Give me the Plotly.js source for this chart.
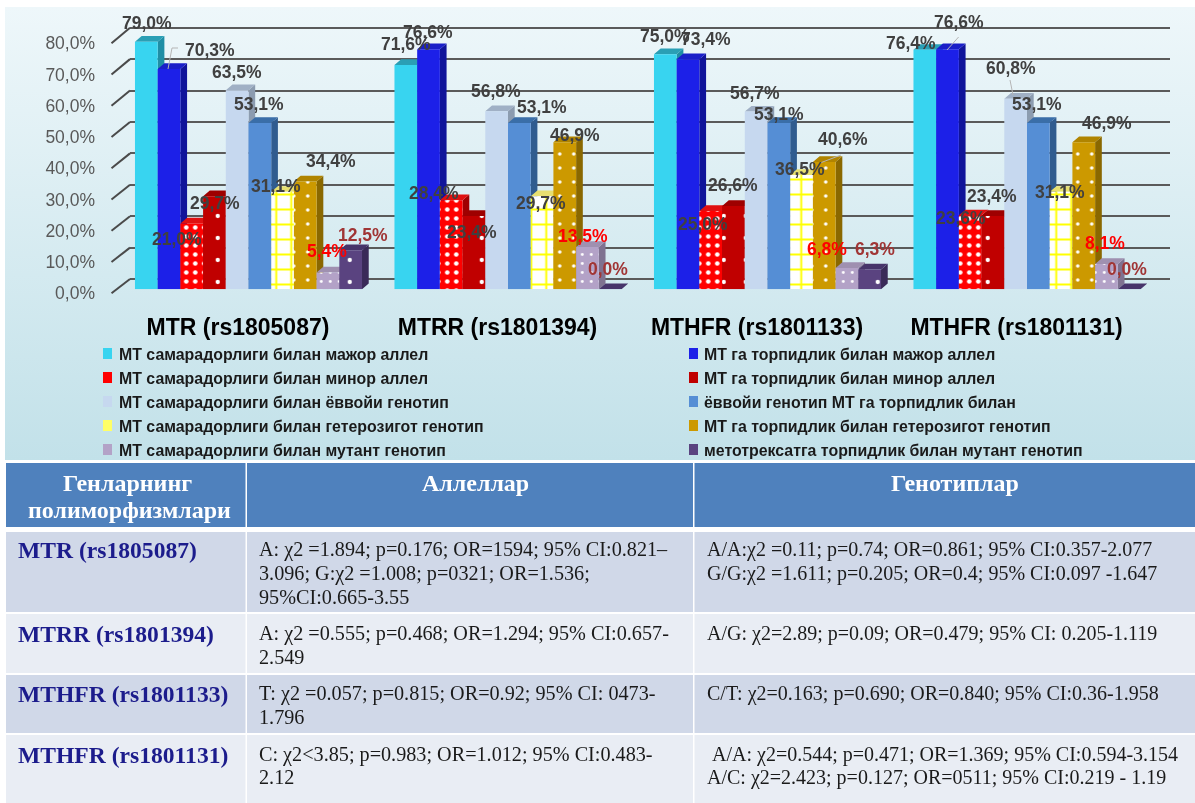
<!DOCTYPE html>
<html><head><meta charset="utf-8">
<script src="https://cdn.plot.ly/plotly-3.0.1.min.js"></script>
<style>
html,body{margin:0;padding:0;background:#fff;overflow:hidden}
#panel{position:absolute;left:5px;top:7px;width:1190px;height:453px;background:linear-gradient(#eef7fa,#c2e1e9)}
#chart{position:absolute;left:0;top:0;width:1195px;height:803px;filter:blur(0.4px)}
</style></head><body>
<div id="panel"></div><div id="chart"></div>
<script>
var W=1195,H=803;
var categories=['MTR (rs1805087)','MTRR (rs1801394)','MTHFR (rs1801133)','MTHFR (rs1801131)'];
var tickValues=[0,10,20,30,40,50,60,70,80];
var seriesNames=['МТ самарадорлиги билан мажор аллел','МТ га торпидлик билан мажор аллел','МТ самарадорлиги билан минор аллел','МТ га торпидлик билан минор аллел','МТ самарадорлиги билан ёввойи генотип','ёввойи генотип МТ га торпидлик билан','МТ самарадорлиги билан гетерозигот генотип','МТ га торпидлик билан гетерозигот генотип','МТ самарадорлиги билан мутант генотип','метотрексатга торпидлик билан мутант генотип'];
var majorEff=[79.0,71.6,75.0,76.4];
var majorRes=[70.3,76.6,73.4,76.6];
var minorEff=[21.0,28.4,25.0,23.6];
var minorRes=[29.7,23.4,26.6,23.4];
var wildEff=[63.5,56.8,56.7,60.8];
var wildRes=[53.1,53.1,53.1,53.1];
var hetEff=[31.1,29.7,36.5,31.1];
var hetRes=[34.4,46.9,40.6,46.9];
var mutEff=[5.4,13.5,6.8,8.1];
var mutRes=[12.5,0.0,6.3,0.0];
var seriesValues=[majorEff,majorRes,minorEff,minorRes,wildEff,wildRes,hetEff,hetRes,mutEff,mutRes];

var tableHeader=[['Генларнинг','полиморфизмлари'],['Аллеллар'],['Генотиплар']];
var tableGenes=['MTR (rs1805087)','MTRR (rs1801394)','MTHFR (rs1801133)','MTHFR (rs1801131)'];
var tableAlleles=[['A: χ2 =1.894; p=0.176; OR=1594; 95% CI:0.821–','3.096; G:χ2 =1.008; p=0321; OR=1.536;','95%CI:0.665-3.55'],['A: χ2 =0.555; p=0.468; OR=1.294; 95% CI:0.657-','2.549'],['T: χ2 =0.057; p=0.815; OR=0.92; 95% CI: 0473-','1.796'],['C: χ2<3.85; p=0.983; OR=1.012; 95% CI:0.483-','2.12']];
var tableGenotypes=[['A/A:χ2 =0.11; p=0.74; OR=0.861; 95% CI:0.357-2.077','G/G:χ2 =1.611; p=0.205; OR=0.4; 95% CI:0.097 -1.647'],['A/G: χ2=2.89; p=0.09; OR=0.479; 95% CI: 0.205-1.119'],['C/T: χ2=0.163; p=0.690; OR=0.840; 95% CI:0.36-1.958'],[' A/A: χ2=0.544; p=0.471; OR=1.369; 95% CI:0.594-3.154','A/C: χ2=2.423; p=0.127; OR=0511; 95% CI:0.219 - 1.19']];

/* ---- styles and layout geometry (pixels) ---- */
var frontColor=['#38d4f0','#1c20e8','#ff0000','#c00000','#c6d8ef','#558ed5','#ffffff','#cc9900','#b3a2c7','#5a4380'];
var topColor=['#2a9fb5','#1a1fc8','#e01010','#9e0000','#a0b0c5','#3a6ea8','#e8e070','#b08400','#9f90b0','#47346a'];
var sideColor=['#1f8ea5','#10149a','#a00000','#8a0000','#8c9cb0','#305c8f','#b8b040','#8a6800','#7f7290','#3a2a58'];
var patterns=[null,null,
 {shape:'.',fgcolor:'#ffffff',bgcolor:'#ff0000',size:9,solidity:0.2},
 {shape:'.',fgcolor:'#ffffff',bgcolor:'#c00000',size:22,solidity:0.03},
 null,null,
 {shape:'+',fgcolor:'#ffff00',bgcolor:'#ffffff',size:15,solidity:0.24},
 {shape:'.',fgcolor:'#ffffff',bgcolor:'#cc9900',size:14,solidity:0.05},
 {shape:'.',fgcolor:'#ffffff',bgcolor:'#b3a2c7',size:9,solidity:0.08},
 {shape:'.',fgcolor:'#ffffff',bgcolor:'#5a4380',size:22,solidity:0.03}];
var labelColor=['#404040','#404040','#404040','#404040','#404040','#404040','#404040','#404040','#ff0000','#a03535'];
/* label centres per series, per group */
var labelPos=[
 [[147,23],[406,44],[665,36],[911,43]],
 [[209.5,50],[428.5,32],[705.5,39],[959,22]],
 [[176.7,239],[434,193],[703,224],[961,218]],
 [[214.6,203],[471.5,232],[733,185],[992,196]],
 [[237,72],[496,91],[755,93],[1011,68]],
 [[259,104],[542,107],[779,114],[1037,104]],
 [[275.5,186],[541,203],[800,169],[1060,192]],
 [[331,161],[575,135],[843,139],[1107,123]],
 [[327,251],[583,236],[827,249],[1105,243]],
 [[363,235],[608,269],[875,249],[1127,269]]];
var leaders=[[[178,48],[172,48],[168,69]],[[958.6,37],[947,50]],[[1010,80],[1013,95]],[[841,155],[820,163]]];

function px(v){return v/W;} function py(v){return 1-v/H;}
var BAR_Z=289.3,BAR_S=3.134,BAR_T=7,BAR_L=118.75,BAR_R=1156.75;
var GRID_Z=279,GRID_T=27.7,GRID_L=130,GRID_R=1170,GRID_MAX=84;
var LAB_Z=293.3,LAB_T=43.3;
var groupGap=0.125,barW=(1-groupGap)/10,depthX=6.7/259.5,depthY=5.7/BAR_S;
var traces=[];
/* back wall host */
traces.push({type:'scatter',x:[0,1],y:[0,80],mode:'markers',marker:{opacity:0},hoverinfo:'skip',showlegend:false,xaxis:'x',yaxis:'y'});
/* depth faces */
seriesValues.forEach(function(vals,j){
  var sx=[],sy=[],tx=[],ty=[];
  vals.forEach(function(v,i){
    var l=i-0.5+groupGap/2+j*barW,r=l+barW;
    sx.push(r,r+depthX,r+depthX,r,r,null);sy.push(0,depthY,v+depthY,v,0,null);
    tx.push(l,l+depthX,r+depthX,r,l,null);ty.push(v,v+depthY,v+depthY,v,v,null);
  });
  traces.push({type:'scatter',x:sx,y:sy,mode:'lines',line:{width:0},fill:'toself',fillcolor:sideColor[j],hoverinfo:'skip',showlegend:false,xaxis:'x2',yaxis:'y2'});
  traces.push({type:'scatter',x:tx,y:ty,mode:'lines',line:{width:0},fill:'toself',fillcolor:topColor[j],hoverinfo:'skip',showlegend:false,xaxis:'x2',yaxis:'y2'});
});
/* front faces */
seriesValues.forEach(function(vals,j){
  var m={color:frontColor[j],line:{width:0}};
  if(patterns[j]) m.pattern=patterns[j];
  traces.push({type:'bar',name:seriesNames[j],x:categories,y:vals,marker:m,showlegend:false,xaxis:'x3',yaxis:'y3',hoverinfo:'skip'});
});
/* axis labels host */
traces.push({type:'scatter',x:categories,y:[0,0,0,0],mode:'markers',marker:{opacity:0},hoverinfo:'skip',showlegend:false,xaxis:'x4',yaxis:'y4'});

var shapes=[],annotations=[];
function rect(x0,y0,x1,y1,c){shapes.push({type:'rect',xref:'paper',yref:'paper',x0:px(x0),x1:px(x1),y0:py(y0),y1:py(y1),fillcolor:c,line:{width:0},layer:'below'});}
function line(a,b,c,w){shapes.push({type:'line',xref:'paper',yref:'paper',x0:px(a[0]),y0:py(a[1]),x1:px(b[0]),y1:py(b[1]),line:{color:c,width:w},layer:'above'});}
function txt(x,y,t,o){o=o||{};annotations.push({xref:'paper',yref:'paper',x:px(x),y:py(y),text:t,showarrow:false,xanchor:o.a||'left',yanchor:'middle',borderpad:0,
  font:{family:o.f||'Liberation Serif',size:o.s||20,color:o.c||'#1a1a1a',weight:o.w||400}});}

/* diagonal tick marks */
tickValues.forEach(function(t){
  var ly=LAB_Z-(LAB_Z-LAB_T)*t/80, gy=GRID_Z-(GRID_Z-GRID_T)*t/80;
  line([111.5,ly],[GRID_L,gy],'#4a4a4a',2);
});
/* data labels */
seriesValues.forEach(function(vals,j){vals.forEach(function(v,i){
  var p=labelPos[j][i];
  txt(p[0],p[1],v.toFixed(1).replace('.',',')+'%',{a:'center',f:'Liberation Sans',s:17.5,w:700,c:labelColor[j]});
});});
leaders.forEach(function(l){for(var k=0;k<l.length-1;k++)line(l[k],l[k+1],'#b5b5b5',1);});
/* legend */
var legX=[[103,118],[689,703]],legY=[354,378,402,426,450];
seriesNames.forEach(function(n,j){
  var col=j%2,row=(j-col)/2,y=legY[row];
  rect(legX[col][0],y-6,legX[col][0]+9,y+5,frontColor[j]==='#ffffff'?'#ffff66':frontColor[j]);
  txt(legX[col][1],y,n,{f:'Liberation Sans',s:15.9,w:700,c:'#1a1a1a'});
});
/* table */
var colX=[[6,245.5],[247,693],[694.5,1195]];
var rowY=[[532,612],[614,673],[675,733],[735,803]];
var rowFill=['#d0d8e8','#e9edf4','#d0d8e8','#e9edf4'];
var lineY=[[549,573,597],[633,657],[693,717],[754,777]];
colX.forEach(function(c){
  rect(c[0],463,c[1],527,'#4f81bd');
  rowY.forEach(function(r,i){rect(c[0],r[0],c[1],r[1],rowFill[i]);});
});
txt(128,483,tableHeader[0][0],{a:'center',s:24,w:700,c:'#ffffff'});
txt(129,510,tableHeader[0][1],{a:'center',s:24,w:700,c:'#ffffff'});
txt(475,483,tableHeader[1][0],{a:'center',s:24,w:700,c:'#ffffff'});
txt(955,483,tableHeader[2][0],{a:'center',s:24,w:700,c:'#ffffff'});
tableGenes.forEach(function(g,i){
  txt(17,lineY[i][0]+1,g,{s:23.6,w:700,c:'#1c1c8c'});
  tableAlleles[i].forEach(function(t,k){txt(258,lineY[i][k],t,{s:20.2});});
  tableGenotypes[i].forEach(function(t,k){txt(t.charAt(0)===' '?711:706,lineY[i][k],t.trim());});
});

var off={visible:false,fixedrange:true};
var layout={width:W,height:H,margin:{l:0,r:0,t:0,b:0},paper_bgcolor:'rgba(0,0,0,0)',plot_bgcolor:'rgba(0,0,0,0)',
 showlegend:false,barmode:'group',bargap:groupGap,bargroupgap:0,
 shapes:shapes,annotations:annotations,
 xaxis:Object.assign({domain:[px(GRID_L),px(GRID_R)],range:[0,1]},off),
 yaxis:{domain:[py(GRID_Z),py(GRID_Z-(GRID_Z-GRID_T)*GRID_MAX/80)],range:[0,GRID_MAX],tickvals:tickValues,showticklabels:false,ticks:'',showgrid:true,gridcolor:'#5a5a5a',gridwidth:2,zeroline:true,zerolinecolor:'#5a5a5a',zerolinewidth:2,showline:false,fixedrange:true},
 xaxis2:Object.assign({domain:[px(BAR_L),px(BAR_R)],range:[-0.5,3.5],anchor:'y2'},off),
 yaxis2:Object.assign({domain:[py(BAR_Z),py(BAR_T)],range:[0,(BAR_Z-BAR_T)/BAR_S],anchor:'x2'},off),
 xaxis3:Object.assign({domain:[px(BAR_L),px(BAR_R)],type:'category',categoryorder:'array',categoryarray:categories,range:[-0.5,3.5],anchor:'y3'},off),
 yaxis3:Object.assign({domain:[py(BAR_Z),py(BAR_T)],range:[0,(BAR_Z-BAR_T)/BAR_S],anchor:'x3'},off),
 xaxis4:{domain:[px(BAR_L-10.5),px(BAR_R-10.5)],type:'category',categoryorder:'array',categoryarray:categories,range:[-0.5,3.5],anchor:'free',position:py(311),showgrid:false,zeroline:false,showline:false,ticks:'',tickangle:0,fixedrange:true,tickfont:{family:'Liberation Sans',size:23,color:'#000000',weight:700}},
 yaxis4:{domain:[py(LAB_Z),py(LAB_T)],range:[0,80],tickmode:'array',tickvals:tickValues,ticktext:tickValues.map(function(t){return t.toFixed(1).replace('.',',')+'%';}),anchor:'free',position:px(95),side:'left',showgrid:false,zeroline:false,showline:false,ticks:'',fixedrange:true,tickfont:{family:'Liberation Sans',size:17.5,color:'#595959'}}
};
Plotly.newPlot('chart',traces,layout,{displayModeBar:false,staticPlot:true});
</script>
</body></html>
